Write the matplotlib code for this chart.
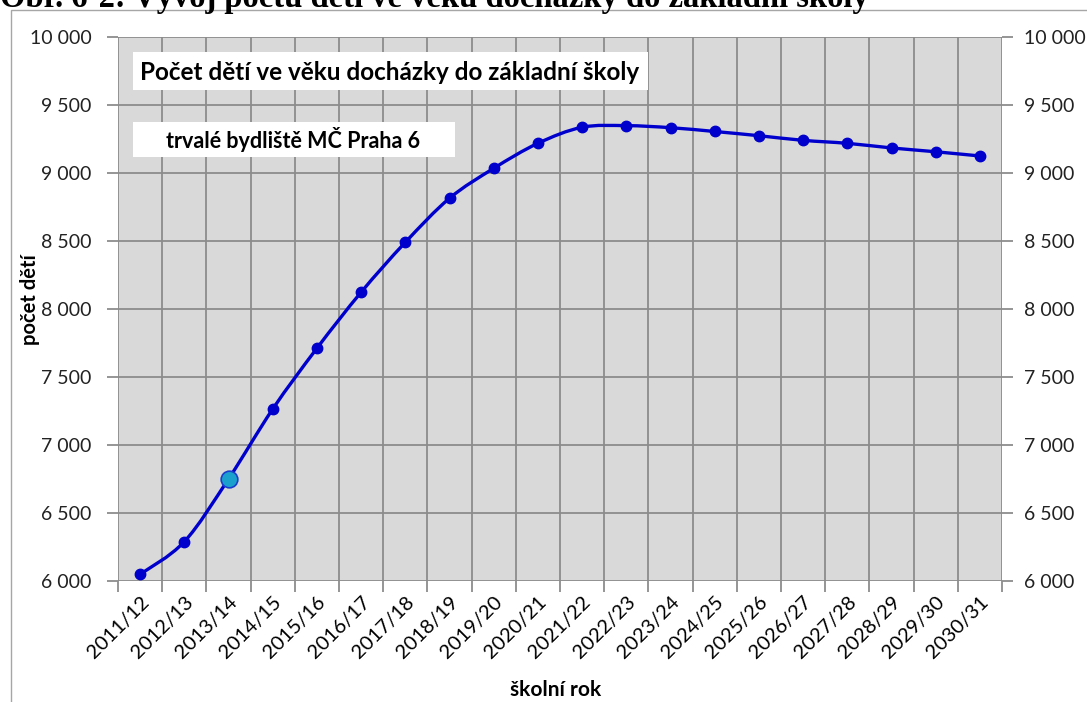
import matplotlib
matplotlib.use("Agg")
import matplotlib.pyplot as plt
import numpy as np
from matplotlib.path import Path
from matplotlib.patches import PathPatch, Rectangle
from matplotlib.ticker import FixedLocator, FixedFormatter

years = ["2011/12", "2012/13", "2013/14", "2014/15", "2015/16", "2016/17", "2017/18",
         "2018/19", "2019/20", "2020/21", "2021/22", "2022/23", "2023/24", "2024/25",
         "2025/26", "2026/27", "2027/28", "2028/29", "2029/30", "2030/31"]
children = [6047, 6287, 6748, 7262, 7709, 8121, 8488, 8812, 9032, 9216, 9334, 9346,
            9331, 9303, 9272, 9238, 9216, 9182, 9154, 9123]
highlight_index = 2
y_ticks = [6000, 6500, 7000, 7500, 8000, 8500, 9000, 9500, 10000]
y_tick_labels = ["6 000", "6 500", "7 000", "7 500", "8 000", "8 500", "9 000", "9 500", "10 000"]

W, H = 1087, 702
fig = plt.figure(figsize=(W / 100, H / 100), dpi=100)
fig.patch.set_facecolor("white")

SANS = ["Lato", "DejaVu Sans"]

# page title (cut off at top, as in the source page)
fig.text(0.0, 1 - 7 / H, "Obr. 6-2: Vývoj počtu dětí ve věku docházky do základní školy",
         family=["Liberation Serif", "DejaVu Serif"], weight="bold", fontsize=23.5,
         ha="left", va="baseline")

# chart outer border
fig.patches.append(Rectangle((11 / W, -0.1), 1.2, 1 - 10 / H + 0.1, transform=fig.transFigure,
                             fill=False, edgecolor="#a6a6a6", linewidth=1.0, zorder=0))

left, right, top, bottom = 118, 1002, 36.7, 580.7
ax = fig.add_axes([left / W, 1 - bottom / H, (right - left) / W, (bottom - top) / H])
ax.set_facecolor("#d9d9d9")
n = len(years)
x = np.arange(n)
ax.set_xlim(-0.5, n - 0.5)
ax.set_ylim(6000, 10000)

grid_c = "#8c8c8c"
ax.xaxis.set_major_locator(FixedLocator(x))
ax.xaxis.set_major_formatter(FixedFormatter(years))
ax.xaxis.set_minor_locator(FixedLocator(np.arange(-0.5, n, 1.0)))
ax.tick_params(axis="x", which="major", length=0, pad=9)
ax.tick_params(axis="x", which="minor", length=8, width=1.3, color=grid_c, direction="out")
ax.grid(True, axis="x", which="minor", color=grid_c, linewidth=1.3)
ax.set_yticks(y_ticks)
ax.set_yticklabels(y_tick_labels)
ax.tick_params(axis="y", length=8, width=1.3, color=grid_c, direction="out", pad=11)
ax.grid(True, axis="y", which="major", color=grid_c, linewidth=1.3)
ax.set_axisbelow(True)
for lbl in ax.get_xticklabels():
    lbl.set_rotation(45)
    lbl.set_ha("right")
    lbl.set_va("top")
    lbl.set_rotation_mode("anchor")
    lbl.set_family(SANS)
    lbl.set_fontsize(14.5)
for lbl in ax.get_yticklabels():
    lbl.set_family(SANS)
    lbl.set_fontsize(14)
    lbl.set_color("#222222")
for s in ax.spines.values():
    s.set_visible(False)

ax2 = ax.twinx()
ax2.set_ylim(6000, 10000)
ax2.set_yticks(y_ticks)
ax2.set_yticklabels(y_tick_labels)
ax2.tick_params(axis="y", length=8, width=1.3, color=grid_c, direction="out", pad=8)
for lbl in ax2.get_yticklabels():
    lbl.set_family(SANS)
    lbl.set_fontsize(14)
    lbl.set_color("#222222")
for s in ax2.spines.values():
    s.set_visible(False)

# smoothed line (Catmull-Rom as cubic Bezier) through the data points
ys = np.array(children, dtype=float)
verts = [(x[0], ys[0])]
codes = [Path.MOVETO]
for i in range(n - 1):
    p0 = np.array([x[max(i - 1, 0)], ys[max(i - 1, 0)]])
    p1 = np.array([x[i], ys[i]])
    p2 = np.array([x[i + 1], ys[i + 1]])
    p3 = np.array([x[min(i + 2, n - 1)], ys[min(i + 2, n - 1)]])
    c1 = p1 + (p2 - p0) / 6.0
    c2 = p2 - (p3 - p1) / 6.0
    verts += [tuple(c1), tuple(c2), tuple(p2)]
    codes += [Path.CURVE4] * 3
line_c = "#0000cc"
ax.add_patch(PathPatch(Path(verts, codes), facecolor="none", edgecolor=line_c,
                       linewidth=2.4, zorder=3, capstyle="round", joinstyle="round"))
mask = np.ones(n, bool)
mask[highlight_index] = False
ax.plot(x[mask], ys[mask], linestyle="none", marker="o", markersize=7.5,
        color=line_c, zorder=4)
ax.plot([x[highlight_index]], [ys[highlight_index]], linestyle="none", marker="o",
        markersize=12, markerfacecolor="#1b9fcc", markeredgecolor="#1a3fcc",
        markeredgewidth=1.2, zorder=5)

# inner text boxes (white rectangles sized to match the source)
fig.patches.append(Rectangle((133 / W, 1 - 90 / H), (648 - 133) / W, 38 / H,
                             transform=fig.transFigure, facecolor="white", edgecolor="none", zorder=6))
fig.patches.append(Rectangle((133 / W, 1 - 157 / H), (455 - 133) / W, 35 / H,
                             transform=fig.transFigure, facecolor="white", edgecolor="none", zorder=6))
fig.text(390 / W, 1 - 72 / H, "Počet dětí ve věku docházky do základní školy",
         family=SANS, weight="bold", fontsize=17.5, ha="center", va="center", zorder=7)
fig.text(293 / W, 1 - 140 / H, "trvalé bydliště MČ Praha 6",
         family=SANS, weight="bold", fontsize=15.5, ha="center", va="center", zorder=7)

# axis titles
fig.text(30 / W, 1 - 300 / H, "počet dětí", family=SANS, weight="bold", fontsize=14.5,
         rotation=90, ha="center", va="center")
fig.text(556 / W, 1 - 690 / H, "školní rok", family=SANS, weight="bold", fontsize=15,
         ha="center", va="center")

fig.savefig("out.png", dpi=100, facecolor="white")
